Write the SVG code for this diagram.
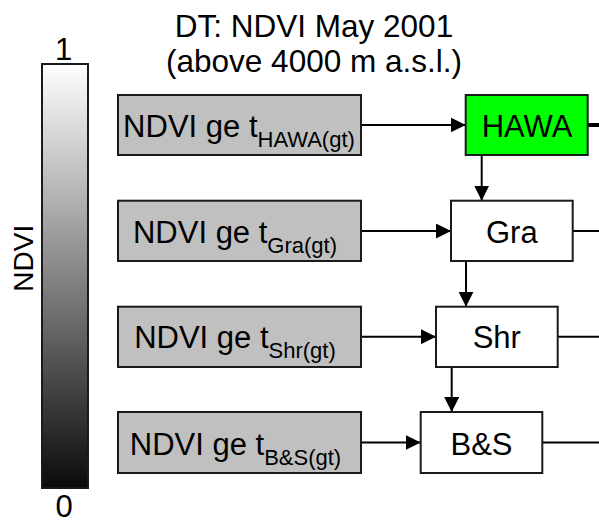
<svg xmlns="http://www.w3.org/2000/svg" width="599" height="523" viewBox="0 0 599 523">
<style>
text{font-family:"Liberation Sans",Arial,sans-serif;fill:#000}
.big{font-size:31px}
.ttl{font-size:31.5px}
.sub{font-size:22px}
.cond{fill:#c0c0c0;stroke:#1a1a1a;stroke-width:2}
.node{fill:#fff;stroke:#1a1a1a;stroke-width:2}
.ln{stroke:#000;stroke-width:2;fill:none}
</style>
<defs>
<linearGradient id="cb" x1="0" y1="0" x2="0" y2="1">
<stop offset="0" stop-color="#ffffff"/>
<stop offset="1" stop-color="#0a0a0a"/>
</linearGradient>
<marker id="ah" markerUnits="userSpaceOnUse" markerWidth="16" markerHeight="15" refX="15" refY="7.5" orient="auto">
<path d="M0,0 L15,7.5 L0,15 Z" fill="#000"/>
</marker>
</defs>
<g id="title">
<text class="ttl" x="314" y="36.5" text-anchor="middle">DT: NDVI May 2001</text>
<text class="ttl" x="314" y="71.5" text-anchor="middle">(above 4000 m a.s.l.)</text>
</g>
<g id="colorbar">
<rect x="42" y="64" width="46" height="424" fill="url(#cb)" stroke="#1a1a1a" stroke-width="2"/>
<text class="big" x="63.5" y="60" text-anchor="middle">1</text>
<text class="big" x="64" y="517" text-anchor="middle">0</text>
<text x="33.3" y="258.3" font-size="28" text-anchor="middle" transform="rotate(-90 33.3 258.3)">NDVI</text>
</g>
<g id="connectors">
<line class="ln" x1="361" y1="125" x2="465.7" y2="125" marker-end="url(#ah)"/>
<line class="ln" x1="361" y1="231" x2="451" y2="231" marker-end="url(#ah)"/>
<line class="ln" x1="361" y1="336.7" x2="436" y2="336.7" marker-end="url(#ah)"/>
<line class="ln" x1="361" y1="442.5" x2="420.7" y2="442.5" marker-end="url(#ah)"/>
<line class="ln" x1="481.7" y1="155" x2="481.7" y2="200.7" marker-end="url(#ah)"/>
<line class="ln" x1="466" y1="261" x2="466" y2="306.7" marker-end="url(#ah)"/>
<line class="ln" x1="451.7" y1="367" x2="451.7" y2="412" marker-end="url(#ah)"/>
<line x1="588" y1="125" x2="599" y2="125" stroke="#000" stroke-width="4"/>
<line class="ln" x1="572.7" y1="231" x2="599" y2="231"/>
<line class="ln" x1="557.7" y1="336.7" x2="599" y2="336.7"/>
<line class="ln" x1="542.3" y1="442.5" x2="599" y2="442.5"/>
</g>
<g id="cond-hawa">
<rect class="cond" x="118" y="95" width="243" height="60"/>
<text x="239" y="136.7" text-anchor="middle"><tspan class="big">NDVI ge t</tspan><tspan class="sub" dy="10">HAWA(gt)</tspan></text>
</g>
<g id="cond-gra">
<rect class="cond" x="118" y="200.7" width="243" height="60.3"/>
<text x="235" y="243" text-anchor="middle"><tspan class="big">NDVI ge t</tspan><tspan class="sub" dy="10">Gra(gt)</tspan></text>
</g>
<g id="cond-shr">
<rect class="cond" x="118" y="306.7" width="243" height="60.3"/>
<text x="235" y="348.3" text-anchor="middle"><tspan class="big">NDVI ge t</tspan><tspan class="sub" dy="10">Shr(gt)</tspan></text>
</g>
<g id="cond-bs">
<rect class="cond" x="118" y="412" width="243" height="61"/>
<text x="235.5" y="454.5" text-anchor="middle"><tspan class="big">NDVI ge t</tspan><tspan class="sub" dy="10">B&amp;S(gt)</tspan></text>
</g>
<g id="node-hawa">
<rect class="node" x="465.7" y="95" width="122" height="60" style="fill:#00ff00"/>
<text class="big" x="527" y="136.7" text-anchor="middle">HAWA</text>
</g>
<g id="node-gra">
<rect class="node" x="451" y="200.7" width="121.7" height="60.3"/>
<text class="big" x="511.8" y="242.7" text-anchor="middle">Gra</text>
</g>
<g id="node-shr">
<rect class="node" x="436" y="306.7" width="121.7" height="60.3"/>
<text class="big" x="496.8" y="348.3" text-anchor="middle">Shr</text>
</g>
<g id="node-bs">
<rect class="node" x="420.7" y="412" width="121.6" height="61"/>
<text class="big" x="481.5" y="455" text-anchor="middle">B&amp;S</text>
</g>
</svg>
